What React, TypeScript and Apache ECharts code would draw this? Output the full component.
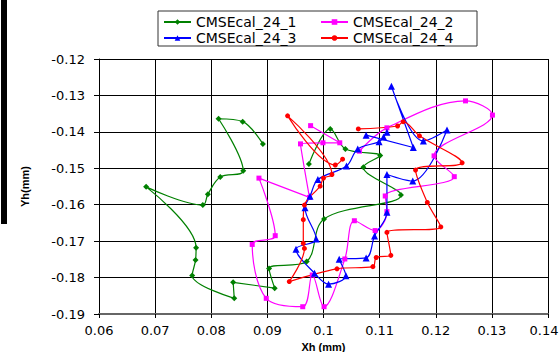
import React, { useEffect, useRef } from 'react';
import * as echarts from 'echarts';

const xTickLabels = ['0.06', '0.07', '0.08', '0.09', '0.1', '0.11', '0.12', '0.13', '0.14'];
const yTickLabels = ['-0.19', '-0.18', '-0.17', '-0.16', '-0.15', '-0.14', '-0.13', '-0.12'];
const seriesNames = ['CMSEcal_24_1', 'CMSEcal_24_2', 'CMSEcal_24_3', 'CMSEcal_24_4'];

const cal1X = [0.0974, 0.1012, 0.1039, 0.1101, 0.1071, 0.1138, 0.1001, 0.0970, 0.0903, 0.0913, 0.0839, 0.0841, 0.0766, 0.0772, 0.0773, 0.0684, 0.0785, 0.0794, 0.0816, 0.0857, 0.0813, 0.0856, 0.0892];
const cal1Y = [-0.1488, -0.1392, -0.1447, -0.1465, -0.1497, -0.1573, -0.1639, -0.1756, -0.1775, -0.1829, -0.1813, -0.1857, -0.1794, -0.1752, -0.1718, -0.1551, -0.1601, -0.1571, -0.1524, -0.1507, -0.1364, -0.1372, -0.1433];

const cal2X = [0.0977, 0.1029, 0.0999, 0.0959, 0.0975, 0.0885, 0.0914, 0.0873, 0.0898, 0.0963, 0.0980, 0.1001, 0.1038, 0.1055, 0.1092, 0.1113, 0.1110, 0.1233, 0.1197, 0.1301, 0.1253, 0.1113, 0.1064];
const cal2Y = [-0.1383, -0.1430, -0.1430, -0.1433, -0.1580, -0.1527, -0.1685, -0.1709, -0.1857, -0.1880, -0.1793, -0.1880, -0.1749, -0.1644, -0.1671, -0.1619, -0.1576, -0.1523, -0.1466, -0.1354, -0.1315, -0.1389, -0.1453];

const cal3X = [0.1076, 0.1160, 0.1121, 0.1178, 0.1220, 0.1159, 0.1113, 0.1113, 0.1091, 0.1076, 0.1028, 0.1040, 0.1009, 0.0984, 0.0951, 0.0987, 0.0967, 0.0976, 0.0990, 0.1041, 0.1061, 0.1099, 0.1107, 0.1113];
const cal3Y = [-0.1409, -0.1443, -0.1275, -0.1425, -0.1395, -0.1535, -0.1517, -0.1621, -0.1686, -0.1746, -0.1750, -0.1795, -0.1818, -0.1788, -0.1722, -0.1694, -0.1608, -0.1577, -0.1531, -0.1494, -0.1447, -0.1427, -0.1414, -0.1401];

const cal4X = [0.1034, 0.1021, 0.0936, 0.1015, 0.1000, 0.0994, 0.0966, 0.0964, 0.0964, 0.0966, 0.0939, 0.1024, 0.1088, 0.1094, 0.1120, 0.1113, 0.1209, 0.1185, 0.1164, 0.1247, 0.1171, 0.1142, 0.1132, 0.1062];
const cal4Y = [-0.1475, -0.1491, -0.1356, -0.1517, -0.1527, -0.1549, -0.1601, -0.1641, -0.1706, -0.1720, -0.1811, -0.1776, -0.1770, -0.1745, -0.1739, -0.1676, -0.1661, -0.1594, -0.1505, -0.1485, -0.1411, -0.1372, -0.1384, -0.1392];

const colors = ['#008000', '#FF00FF', '#0000FF', '#FF0000'];
const symbols = ['diamond', 'rect', 'triangle', 'circle'];
const symbolSizes = [6, 5, 7, 5];

const pairs = (xs: number[], ys: number[]) => xs.map((x, i) => [x, ys[i]]);

export default function App() {
  const ref = useRef<HTMLDivElement>(null);
  useEffect(() => {
    if (!ref.current) return;
    const chart = echarts.init(ref.current, null, { renderer: 'svg' });
    const xMin = parseFloat(xTickLabels[0]);
    const xMax = parseFloat(xTickLabels[xTickLabels.length - 1]);
    const xStep = (xMax - xMin) / (xTickLabels.length - 1);
    const yMin = parseFloat(yTickLabels[0]);
    const yMax = parseFloat(yTickLabels[yTickLabels.length - 1]);
    const yStep = (yMax - yMin) / (yTickLabels.length - 1);
    const allData = [pairs(cal1X, cal1Y), pairs(cal2X, cal2Y), pairs(cal3X, cal3Y), pairs(cal4X, cal4Y)];
    const labelFont = { fontFamily: 'DejaVu Sans', fontSize: 13, color: '#000' };
    chart.setOption({
      animation: false,
      backgroundColor: '#fff',
      grid: { left: 99, right: 12, top: 59, bottom: 38, containLabel: false, outerBoundsMode: 'none' },
      legend: {
        data: seriesNames,
        left: 158,
        top: 11,
        width: 312,
        orient: 'horizontal',
        itemWidth: 27,
        itemHeight: 7,
        itemGap: 2,
        padding: [4, 2, 1, 5],
        borderColor: '#333',
        borderWidth: 1,
        backgroundColor: '#fff',
        textStyle: { fontFamily: 'DejaVu Sans', fontSize: 14, color: '#000', width: 122, lineHeight: 14 },
      },
      xAxis: {
        type: 'value',
        min: xMin,
        max: xMax,
        interval: xStep,
        name: 'Xh (mm)',
        nameLocation: 'middle',
        nameGap: 25,
        nameTextStyle: { fontFamily: 'Liberation Sans', fontSize: 11, fontWeight: 'bold', color: '#000' },
        axisLine: { show: true, lineStyle: { color: '#666', width: 2 } },
        axisTick: { show: true, length: 4, lineStyle: { color: '#000' } },
        axisLabel: {
          ...labelFont,
          margin: 10,
          formatter: (v: number) => {
            const idx = Math.round((v - xMin) / xStep);
            const t = xTickLabels[idx] ?? '';
            return idx === xTickLabels.length - 1 ? '{m|' + t + '}' : t;
          },
          rich: { m: { fontFamily: 'DejaVu Sans', fontSize: 13, color: '#000', padding: [0, 8, 0, 0] } },
        },
        splitLine: { show: true, lineStyle: { color: '#000', width: 1 } },
      },
      yAxis: {
        type: 'value',
        min: yMin,
        max: yMax,
        interval: yStep,
        name: 'Yh(mm)',
        nameLocation: 'middle',
        nameGap: 69,
        nameRotate: 90,
        nameTextStyle: { fontFamily: 'Liberation Sans', fontSize: 11, fontWeight: 'bold', color: '#000' },
        axisLine: { show: true, lineStyle: { color: '#000', width: 1 } },
        axisTick: { show: true, length: 5, lineStyle: { color: '#000' } },
        axisLabel: {
          ...labelFont,
          margin: 14,
          formatter: (v: number) => yTickLabels[Math.round((v - yMin) / yStep)] ?? '',
        },
        splitLine: { show: true, lineStyle: { color: '#000', width: 1 } },
      },
      graphic: [
        { type: 'rect', left: 1, top: 0, shape: { width: 6, height: 224 }, style: { fill: '#000' } },
      ],
      series: seriesNames.map((name, i) => ({
        name,
        type: 'line',
        data: allData[i],
        smooth: 0.35,
        symbol: symbols[i],
        symbolSize: symbolSizes[i],
        showSymbol: true,
        lineStyle: { color: colors[i], width: 1.2 },
        itemStyle: { color: colors[i], borderWidth: 0 },
        clip: false,
      })),
    });
    return () => chart.dispose();
  }, []);
  return <div ref={ref} style={{ position: 'fixed', left: 0, top: 0, width: 560, height: 352, background: '#fff' }} />;
}
